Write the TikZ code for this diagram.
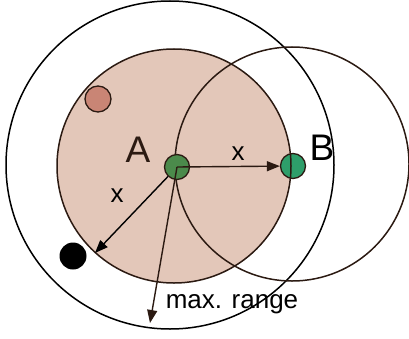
\documentclass[tikz,border=0pt]{standalone}
\usepackage{fontspec}
\setmainfont{Liberation Sans}
\usetikzlibrary{arrows.meta}
\definecolor{rangefill}{HTML}{E3C7B9}
\definecolor{nodegreen}{HTML}{4B8A4B}
\definecolor{nodeteal}{HTML}{2E9E6A}
\definecolor{dotred}{HTML}{C98575}
\definecolor{darkline}{HTML}{2B1A12}

\begin{document}
\begin{tikzpicture}[x=1pt,y=1pt,line width=1.5pt,
    station/.style={circle,draw=darkline,line width=1.3pt,minimum size=25pt,inner sep=0pt},
    reach/.style={-{Triangle[length=13pt,width=10pt]},darkline,line width=1.4pt},
    biglabel/.style={font=\fontsize{37}{37}\selectfont,darkline},
    smalllabel/.style={font=\fontsize{26}{26}\selectfont}]
    \useasboundingbox (0,0) rectangle (409,338);
    % --- reichweiten ---
    \draw (170,173) circle (164);
    \fill[rangefill] (174,172) circle (117);
    \draw[darkline] (292,174) circle (117);
    % --- stationen ---
    \node[station,fill=nodegreen] (A) at (177,171) {};
    \node[station,fill=nodeteal] (B) at (293,172) {};
    \node[station,fill=dotred,minimum size=26pt] (red) at (98,239) {};
    \node[circle,fill=black,minimum size=27pt,inner sep=0pt] (black) at (73,82) {};
    \draw[darkline] (174,172) circle (117);
    % endpunkte der pfeile
    \coordinate (xend) at (95,85);
    \coordinate (maxend) at (150,15);
    \draw[reach] (A.center) -- (B);
    \draw[reach,black] (A) -- (xend);
    \draw[reach] (A.center) -- (maxend);
    % --- beschriftung ---
    \node[biglabel] (labA) at (138,188) {A};
    \node[biglabel,black] (labB) at (322,190) {B};
    \node[smalllabel] (xright) at (238,184) {x};
    \node[smalllabel] (xleft) at (117,142) {x};
    \node[smalllabel,anchor=base west,inner sep=0pt] (maxlab) at (165,30) {max. range};
\end{tikzpicture}
\end{document}
